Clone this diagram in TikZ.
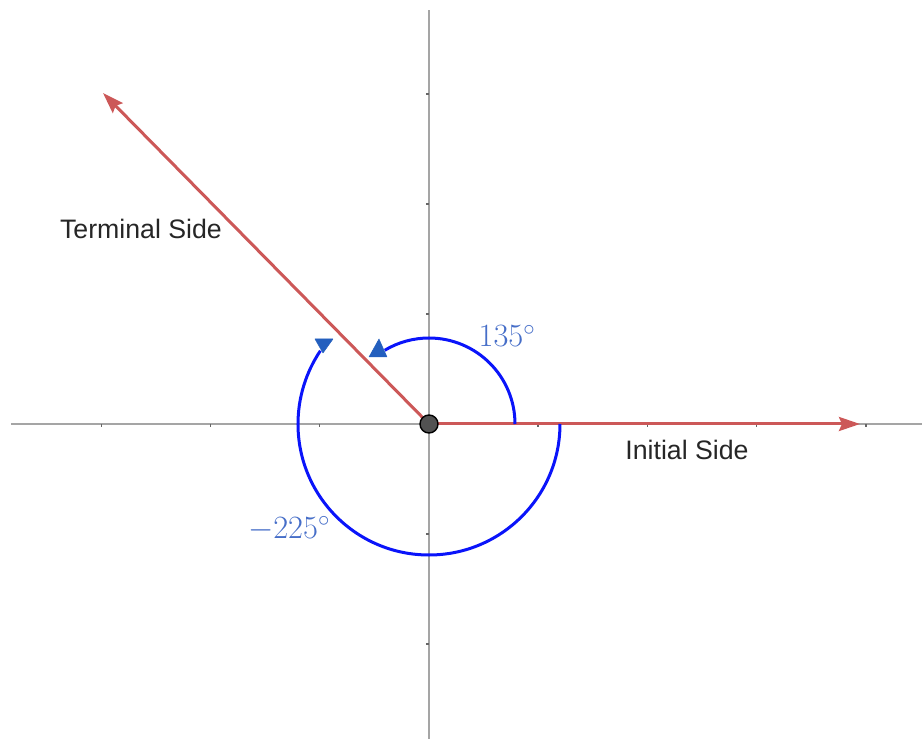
\RequirePackage{fix-cm}
\documentclass[tikz,border=0pt]{standalone}
\usepackage{fontspec}
\newfontfamily\lib{Liberation Sans}
\usetikzlibrary{arrows.meta}
\definecolor{sidered}{RGB}{204,88,88}
\definecolor{arcblue}{RGB}{10,20,250}
\definecolor{tipblue}{RGB}{35,95,190}
\definecolor{lblblue}{RGB}{70,110,200}
\definecolor{axgray}{RGB}{165,165,165}
\begin{document}
\begin{tikzpicture}[x=1pt,y=1pt,
  axis/.style={draw=axgray,line width=2.6pt},
  tick/.style={draw=black!60,line width=1.4pt},
  side/.style={draw=sidered,line width=3pt,-{Stealth[length=21pt,width=14pt,inset=3pt]}},
  angarc/.style={draw=arcblue,line width=3pt},
  tiptri/.style={fill=tipblue,draw=tipblue,line width=0.5pt,line join=round},
  sidelbl/.style={font=\lib\fontsize{26.7}{28}\selectfont,text=black!85,inner sep=0pt},
  anglbl/.style={font=\fontsize{32.5}{34}\selectfont,text=lblblue,inner sep=0pt}]
\useasboundingbox (-429,-315) rectangle (493,424);
% axes
\coordinate (O) at (0,0);
\coordinate (xl) at (-418,0);
\coordinate (xr) at (493,0);
\coordinate (yt) at (0,414);
\coordinate (yb) at (0,-315);
\draw[axis] (xl) -- (xr);
\draw[axis] (yb) -- (yt);
\foreach \k in {-3,-2,-1,1,2,3,4} \draw[tick] (\k*109.2,0) -- ++(0,-3);
\foreach \k in {-2,-1,1,2,3} \draw[tick] (0,\k*110) -- ++(-3,0);
% sides
\coordinate (I) at (431,0);
\coordinate (T) at (-326,331);
\draw[side] (O) -- (I);
\draw[side] (O) -- (T);
% angle arcs
\draw[angarc] (86,0) arc[start angle=0,end angle=121,radius=86];
\filldraw[tiptri] (-60,67) -- (-50,85) -- (-42,67) -- cycle;
\draw[angarc] (131,0) arc[start angle=0,end angle=-214,radius=131];
\filldraw[tiptri] (-114,85) -- (-96,85) -- (-106,71) -- cycle;
% origin dot
\node[circle,fill=black!68,draw=black,line width=1.4pt,minimum size=18pt,inner sep=0pt] (dot) at (O) {};
% labels
\node[anglbl] (a135) at (78,88) {$135^\circ$};
\node[anglbl] (a225) at (-140,-105) {$-225^\circ$};
\node[sidelbl] (term) at (-288,195) {Terminal Side};
\node[sidelbl] (init) at (258,-26) {Initial Side};
\end{tikzpicture}
\end{document}
